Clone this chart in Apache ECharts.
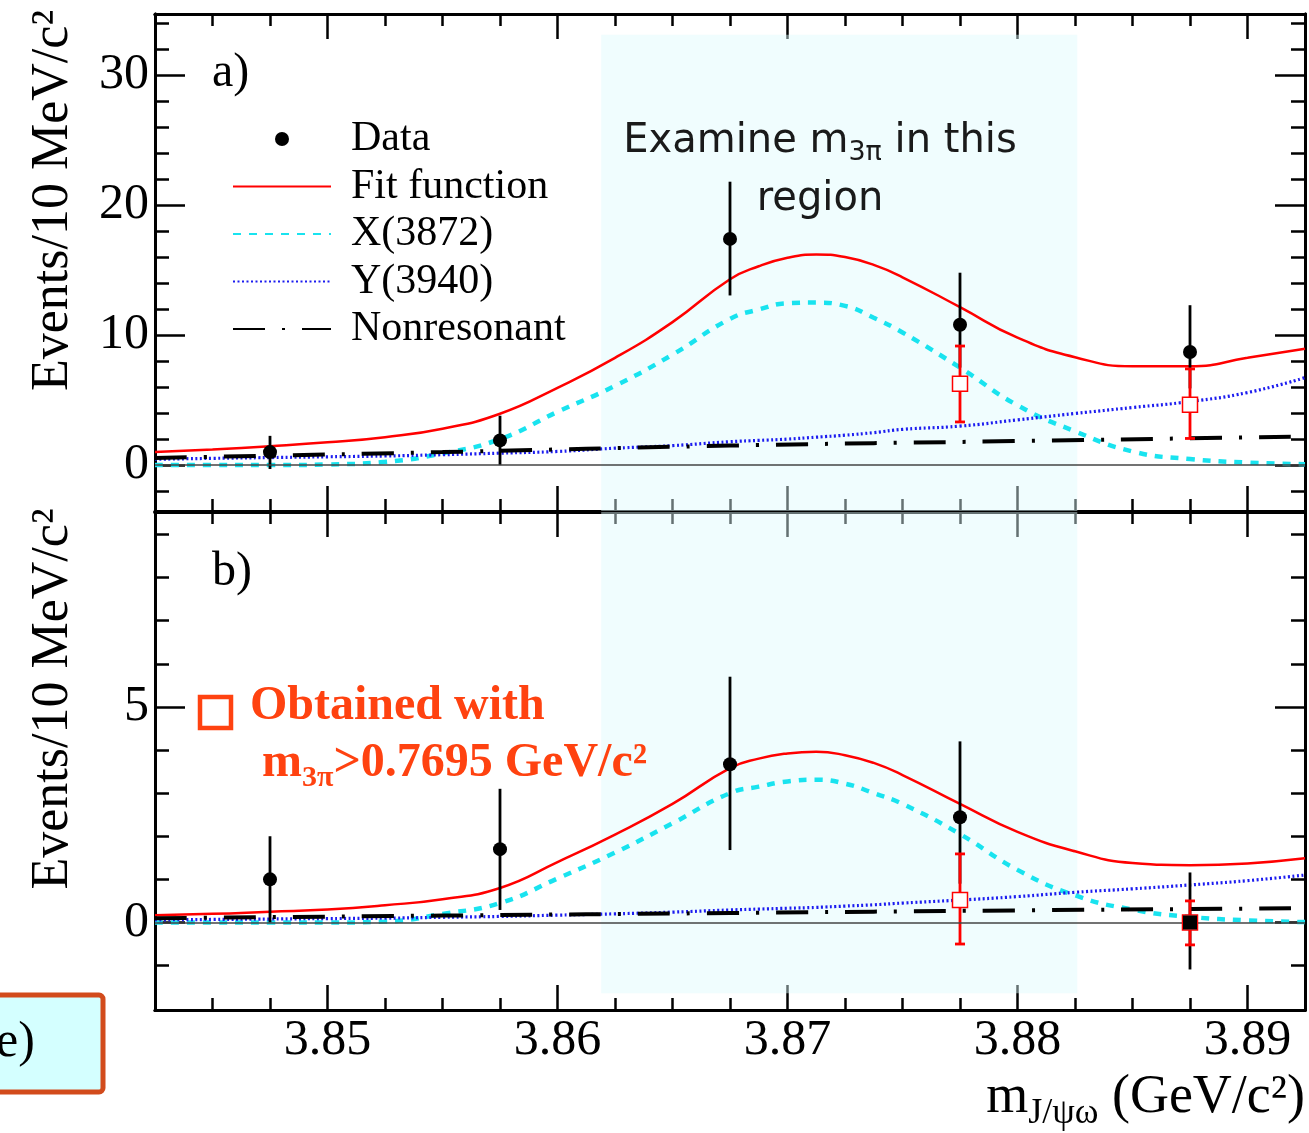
<!DOCTYPE html>
<html>
<head>
<meta charset="utf-8">
<script src="https://cdn.jsdelivr.net/npm/echarts@6/dist/echarts.min.js"></script>
<style>
html, body { margin: 0; padding: 0; background: #fff; }
#main { width: 1309px; height: 1133px; }
</style>
</head>
<body>
<div id="main"></div>
<script>
var serif = 'Liberation Serif';
var orange = '#ff4210';

// axis ranges and tick positions
var xRange = [3.8425, 3.8925];
var yRangeA = [-3.53, 34.7];
var yRangeB = [-2.03, 9.52];
var xMajor = [3.85, 3.86, 3.87, 3.88, 3.89];
var xMinor = [3.845, 3.8475, 3.85, 3.8525, 3.855, 3.8575, 3.86, 3.8625, 3.865, 3.8675, 3.87,
	3.8725, 3.875, 3.8775, 3.88, 3.8825, 3.885, 3.8875, 3.89];
var yMajorA = [0, 10, 20, 30];
var yMinorA = [-2, 0, 2, 4, 6, 8, 10, 12, 14, 16, 18, 20, 22, 24, 26, 28, 30, 32, 34];
var yMajorB = [0, 5];
var yMinorB = [-1, 0, 1, 2, 3, 4, 5, 6, 7, 8, 9];

// m(3pi) examination window
var regionX = [3.8619, 3.8826];
var regionTopA = 33.1;
var regionBottomB = -1.64;

// data points (10 MeV bins)
var binX = [3.8475, 3.8575, 3.8675, 3.8775, 3.8875];
var dataA = [1.0, 1.9, 17.4, 10.8, 8.7];
var dataAHi = [2.25, 3.8, 21.8, 14.8, 12.3];
var dataALo = [-0.3, 0.0, 13.05, 7.5, 5.9];
var dataB = [1.0, 1.7, 3.67, 2.44, 0];
var dataBHi = [2.0, 3.1, 5.7, 4.2, 1.16];
var dataBLo = [0, 0.29, 1.68, 0.9, -1.09];

// points obtained with m3pi > 0.7695
var boxX = [3.8775, 3.8875];
var boxA = [6.25, 4.65];
var boxAHi = [9.16, 7.4];
var boxALo = [3.32, 2.05];
var boxB = [0.52, 0];
var boxBHi = [1.59, 0.5];
var boxBLo = [-0.5, -0.52];

// fit curves, read every 2.5 MeV (finer around the peak)
var curveX = [3.8425, 3.845, 3.8475, 3.85, 3.8525, 3.855, 3.8575, 3.86, 3.8625, 3.865, 3.8675,
	3.86875, 3.87, 3.87125, 3.8725, 3.87375, 3.875, 3.8775, 3.88, 3.8825, 3.885, 3.8875, 3.89, 3.8925];
var fitA = [1.0, 1.2, 1.45, 1.75, 2.15, 2.8, 3.95, 5.95, 8.25, 11.0, 14.3,
	15.3, 15.95, 16.2, 16.0, 15.4, 14.45, 12.15, 9.8, 8.3, 7.6, 7.6, 8.25, 8.95];
var x3872A = [0, 0, 0, 0.05, 0.25, 0.9, 2.0, 4.1, 6.1, 8.5, 11.25,
	11.97, 12.45, 12.5, 12.25, 11.33, 10.2, 7.5, 4.6, 2.6, 1.05, 0.47, 0.2, 0.07];
var y3940A = [0.45, 0.52, 0.58, 0.64, 0.7, 0.8, 0.92, 1.05, 1.3, 1.5, 1.8,
	1.9, 2.0, 2.15, 2.3, 2.5, 2.75, 3.0, 3.48, 3.97, 4.43, 4.89, 5.58, 6.73];
var fitB = [0.17, 0.2, 0.25, 0.3, 0.4, 0.54, 0.8, 1.4, 2.04, 2.75, 3.58,
	3.8, 3.92, 3.96, 3.88, 3.7, 3.42, 2.75, 2.1, 1.65, 1.38, 1.33, 1.37, 1.49];
var x3872B = [0, 0, 0, 0, 0.02, 0.2, 0.45, 1.02, 1.62, 2.3, 3.0,
	3.15, 3.27, 3.31, 3.22, 3.0, 2.75, 2.05, 1.22, 0.63, 0.3, 0.13, 0.05, 0.01];
var y3940B = [0.06, 0.07, 0.08, 0.09, 0.1, 0.12, 0.14, 0.17, 0.2, 0.24, 0.29,
	0.31, 0.33, 0.35, 0.38, 0.41, 0.45, 0.52, 0.6, 0.7, 0.78, 0.87, 0.97, 1.1];
var nonresX = [3.8425, 3.855, 3.8675, 3.88, 3.8925];
var nonresA = [0.55, 1.0, 1.5, 1.85, 2.2];
var nonresB = [0.1, 0.16, 0.22, 0.28, 0.33];

function pairs(xs, ys) {
	return xs.map(function(x, i) {
		return [x, ys[i]];
	});
}

function frameAxis(grid, position, range, ticks, len, labels, extra) {
	var axis = {
		type : 'value',
		gridIndex : grid,
		position : position,
		min : range[0],
		max : range[1],
		axisLine : { show : true, onZero : false, lineStyle : { color : '#000', width : 3 } },
		axisTick : { show : true, inside : true, length : len, customValues : ticks,
			lineStyle : { color : '#000', width : 2.5 } },
		axisLabel : { show : false },
		splitLine : { show : false }
	};
	if (labels) {
		axis.axisLabel = { show : true, customValues : labels, color : '#000',
			fontFamily : serif, fontSize : 50, margin : 6 };
	}
	if (extra) {
		Object.assign(axis, extra);
	}
	return axis;
}

var yName = {
	name : 'Events/10 MeV/c\u00b2',
	nameLocation : 'middle',
	nameGap : 76,
	nameRotate : 90,
	nameTextStyle : { fontFamily : serif, fontSize : 52, color : '#000', padding : [ 0, 0, 0, 124 ] }
};

var xName = {
	name : '{m|m}{s|J/\u03c8\u03c9}{m| (GeV/c\u00b2)}',
	nameLocation : 'end',
	nameGap : 0,
	nameTextStyle : {
		align : 'right', verticalAlign : 'top', padding : [ 54, 0, 0, 0 ],
		rich : {
			m : { fontFamily : serif, fontSize : 54, color : '#000', verticalAlign : 'middle' },
			s : { fontFamily : serif, fontSize : 36, color : '#000', verticalAlign : 'middle', padding : [ 32, 0, 0, 0 ] }
		}
	}
};

var xAxes = [], yAxes = [];
[0, 1].forEach(function(g) {
	var yr = g === 0 ? yRangeA : yRangeB;
	var yMaj = g === 0 ? yMajorA : yMajorB;
	var yMin = g === 0 ? yMinorA : yMinorB;
	xAxes.push(frameAxis(g, 'bottom', xRange, xMajor, 25, g === 1 ? xMajor : null, g === 1 ? xName : null));
	xAxes.push(frameAxis(g, 'bottom', xRange, xMinor, 12));
	xAxes.push(frameAxis(g, 'top', xRange, xMajor, 25));
	xAxes.push(frameAxis(g, 'top', xRange, xMinor, 12));
	yAxes.push(frameAxis(g, 'left', yr, yMaj, 30, yMaj, yName));
	yAxes.push(frameAxis(g, 'left', yr, yMin, 14));
	yAxes.push(frameAxis(g, 'right', yr, yMaj, 30));
	yAxes.push(frameAxis(g, 'right', yr, yMin, 14));
});
xAxes[4].axisLabel.formatter = function(v) {
	return v.toFixed(2);
};

function errorBars(g, xs, lo, hi, color, cap, z) {
	return {
		type : 'custom',
		xAxisIndex : g * 4,
		yAxisIndex : g * 4,
		silent : true,
		z : z,
		data : xs.map(function(x, i) {
			return [ x, lo[i], hi[i] ];
		}),
		renderItem : function(params, api) {
			var a = api.coord([ api.value(0), api.value(1) ]);
			var b = api.coord([ api.value(0), api.value(2) ]);
			var style = { stroke : color, lineWidth : 2.8 };
			var children = [ { type : 'line', shape : { x1 : a[0], y1 : a[1], x2 : b[0], y2 : b[1] }, style : style } ];
			if (cap) {
				children.push({ type : 'line', shape : { x1 : a[0] - cap, y1 : a[1], x2 : a[0] + cap, y2 : a[1] }, style : style });
				children.push({ type : 'line', shape : { x1 : b[0] - cap, y1 : b[1], x2 : b[0] + cap, y2 : b[1] }, style : style });
			}
			return { type : 'group', children : children };
		}
	};
}

function panelSeries(g, fit, x3872, y3940, nonres, data, dataLo, dataHi, box, boxLo, boxHi) {
	var yTop = g === 0 ? regionTopA : yRangeB[1];
	var yBottom = g === 0 ? yRangeA[0] : regionBottomB;
	var common = { xAxisIndex : g * 4, yAxisIndex : g * 4, type : 'line', smooth : 0.5,
		symbol : 'none', silent : true, z : 2 };
	return [
		Object.assign({}, common, {
			name : 'Fit function',
			data : pairs(curveX, fit),
			lineStyle : { color : '#ff0000', width : 2.5 },
			itemStyle : { color : '#ff0000' },
			markArea : {
				silent : true,
				itemStyle : { color : 'rgba(222, 250, 252, 0.45)' },
				data : [ [ { xAxis : regionX[0], yAxis : yTop }, { xAxis : regionX[1], yAxis : yBottom } ] ]
			},
			markLine : {
				silent : true, symbol : 'none', label : { show : false },
				lineStyle : { color : '#444', width : 1.5, type : 'solid' },
				data : [ { yAxis : 0 } ]
			}
		}),
		Object.assign({}, common, {
			name : 'X(3872)',
			data : pairs(curveX, x3872),
			lineStyle : { color : '#19e3ef', width : 4.5, type : [ 8, 8 ] },
			itemStyle : { color : '#19e3ef' }
		}),
		Object.assign({}, common, {
			name : 'Y(3940)',
			data : pairs(curveX, y3940),
			lineStyle : { color : '#1c1cf0', width : 3.2, type : [ 2, 2.5 ] },
			itemStyle : { color : '#1c1cf0' }
		}),
		Object.assign({}, common, {
			name : 'Nonresonant',
			data : pairs(nonresX, nonres),
			lineStyle : { color : '#000', width : 4, type : [ 32, 17, 3, 17 ] },
			itemStyle : { color : '#000' }
		}),
		errorBars(g, binX, dataLo, dataHi, '#000', 0, 3),
		errorBars(g, boxX, boxLo, boxHi, '#ff0000', 5, 4),
		{
			type : 'scatter', xAxisIndex : g * 4, yAxisIndex : g * 4, silent : true, z : 5,
			symbol : 'rect', symbolSize : 15,
			itemStyle : { color : '#fff', borderColor : '#ff0000', borderWidth : 1.5, opacity : 1 },
			data : pairs(boxX, box)
		},
		{
			name : 'Data', type : 'scatter', xAxisIndex : g * 4, yAxisIndex : g * 4, silent : true, z : 6,
			symbol : function(v) {
				return v[1] === 0 ? 'rect' : 'circle';
			},
			symbolSize : 14,
			itemStyle : { color : '#000', opacity : 1 },
			data : pairs(binX, data)
		}
	];
}

var series = panelSeries(0, fitA, x3872A, y3940A, nonresA, dataA, dataALo, dataAHi, boxA, boxALo, boxAHi)
		.concat(panelSeries(1, fitB, x3872B, y3940B, nonresB, dataB, dataBLo, dataBHi, boxB, boxBLo, boxBHi));

var lineIcon = { opacity : 0 };

var myChart = echarts.init(document.getElementById('main'));
var option = {
	animation : false,
	backgroundColor : '#fff',
	grid : [
		{ left : 155, top : 14, width : 1150, height : 497 },
		{ left : 155, top : 512, width : 1150, height : 498 }
	],
	xAxis : xAxes,
	yAxis : yAxes,
	legend : {
		orient : 'vertical',
		left : 232,
		top : 118,
		padding : 0,
		itemWidth : 98,
		itemHeight : 14,
		itemGap : 5.5,
		selectedMode : false,
		textStyle : { fontFamily : serif, fontSize : 42, color : '#000', padding : [ 0, 0, 0, 15 ] },
		data : [
			{ name : 'Data', icon : 'circle' },
			{ name : 'Fit function', itemStyle : lineIcon },
			{ name : 'X(3872)', itemStyle : lineIcon },
			{ name : 'Y(3940)', itemStyle : lineIcon },
			{ name : 'Nonresonant', itemStyle : lineIcon }
		]
	},
	graphic : [
		{ type : 'text', z : 50, style : { text : 'a)', x : 212, y : 73, verticalAlign : 'middle',
			fontFamily : serif, fontSize : 48, fill : '#000' } },
		{ type : 'text', z : 50, style : { text : 'b)', x : 212, y : 572, verticalAlign : 'middle',
			fontFamily : serif, fontSize : 48, fill : '#000' } },
		{ type : 'text', z : 50, style : {
			text : 'Examine m{s|3\u03c0} in this\nregion', x : 820, y : 113, align : 'center', verticalAlign : 'top',
			fontFamily : 'DejaVu Sans', fontSize : 40, lineHeight : 58, fill : '#1a1a1a',
			rich : { s : { fontFamily : 'DejaVu Sans', fontSize : 27, fill : '#1a1a1a', padding : [ 22, 0, 0, 0 ] } }
		} },
		{ type : 'rect', z : 50, shape : { x : 200, y : 697, width : 31, height : 31 },
			style : { fill : '#fff', stroke : orange, lineWidth : 4.5 } },
		{ type : 'text', z : 50, style : { text : 'Obtained with', x : 250, y : 707, verticalAlign : 'middle',
			fontFamily : serif, fontWeight : 'bold', fontSize : 48, fill : orange } },
		{ type : 'text', z : 50, style : {
			text : '{m|m}{s|3\u03c0}{m|>0.7695 GeV/c\u00b2}', x : 262, y : 764, verticalAlign : 'middle',
			rich : {
				m : { fontFamily : serif, fontWeight : 'bold', fontSize : 48, fill : orange, verticalAlign : 'middle' },
				s : { fontFamily : serif, fontWeight : 'bold', fontSize : 30, fill : orange, verticalAlign : 'middle',
					padding : [ 28, 0, 0, 0 ] }
			}
		} },
		{ type : 'rect', z : 50, shape : { x : -20, y : 995, width : 123, height : 97, r : 4 },
			style : { fill : '#d4ffff', stroke : '#d24b1c', lineWidth : 5 } },
		{ type : 'text', z : 51, style : { text : 'e)', x : -4, y : 1043, verticalAlign : 'middle',
			fontFamily : serif, fontSize : 50, fill : '#000' } }
	],
	series : series
};
myChart.setOption(option);
</script>
</body>
</html>
